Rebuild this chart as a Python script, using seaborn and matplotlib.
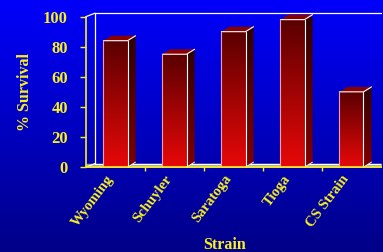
import numpy as np
import pandas as pd
import seaborn as sns
import matplotlib.pyplot as plt
from matplotlib.patches import Polygon
from matplotlib.colors import LinearSegmentedColormap
from matplotlib.transforms import ScaledTranslation

strains = ["Wyoming", "Schuyler", "Saratoga", "Tioga", "CS Strain"]
survival = [84, 75, 90, 98, 50]

yellow = "#f8f020"
serif = ["Liberation Serif", "DejaVu Serif"]

sns.set_theme(style="white")
plt.rcParams["font.family"] = serif
plt.rcParams["font.weight"] = "bold"

df = pd.DataFrame({"strain": strains, "survival": survival})

fig = plt.figure(figsize=(3.83, 2.52), dpi=100)

# blue gradient background
bg = fig.add_axes([0, 0, 1, 1], zorder=-10)
bg_cmap = LinearSegmentedColormap.from_list("bg", ["#0000fb", "#000088"])
bg.imshow(np.linspace(0, 1, 256).reshape(-1, 1), aspect="auto", cmap=bg_cmap,
          extent=[0, 1, 0, 1])
bg.set_axis_off()

ax = fig.add_axes([0.2245, 0.337, 0.77, 0.597])
ax.patch.set_alpha(0)
sns.barplot(data=df, x="strain", y="survival", width=0.41, ax=ax,
            color="#c00000", edgecolor="none", zorder=3)

# depth in data units (~8px right, ~5px up)
ddx, ddy = 0.136, 3.3
wdx, wdy = 0.153, 2.3

front_cmap = LinearSegmentedColormap.from_list("front", ["#e80808", "#5a0000"])
side_cmap = LinearSegmentedColormap.from_list("side", ["#800000", "#300000"])
grad = np.linspace(0, 1, 256).reshape(-1, 1)

for p in ax.patches:
    x0 = p.get_x()
    w = p.get_width()
    h = p.get_height()
    x1 = x0 + w
    p.set_facecolor("none")
    im = ax.imshow(grad, extent=[x0, x1, 0, h], aspect="auto", cmap=front_cmap,
                   origin="lower", zorder=3)
    im.set_clip_path(p)
    side = Polygon([(x1, 0), (x1 + ddx, ddy), (x1 + ddx, h + ddy), (x1, h)],
                   closed=True, facecolor="none", edgecolor="none", zorder=3,
                   clip_on=False)
    ax.add_patch(side)
    im2 = ax.imshow(grad, extent=[x1, x1 + ddx, 0, h + ddy], aspect="auto",
                    cmap=side_cmap, origin="lower", zorder=3)
    im2.set_clip_path(side)
    top = Polygon([(x0, h), (x1, h), (x1 + ddx, h + ddy), (x0 + ddx, h + ddy)],
                  closed=True, facecolor="#8a0000", edgecolor="none", zorder=4,
                  clip_on=False)
    ax.add_patch(top)
    ax.plot([x0, x1, x1 + ddx], [h, h, h + ddy], color="white", lw=0.8,
            zorder=5, clip_on=False)
    ax.plot([x1, x1], [0, h], color="white", lw=0.8, zorder=5, clip_on=False)
    ax.plot([x1, x1 + ddx], [0, ddy], color="white", lw=0.6, zorder=5)
    ax.plot([x0, x0], [0, h], color="#f0a0a0", lw=0.8, zorder=5, clip_on=False)

xmin, xmax = -0.5, 4.5
# back wall and floor
ax.fill_between([xmin, xmax], 0, wdy, color="#a4a4a4", zorder=1)
ax.plot([xmin + wdx, xmax], [wdy, wdy], color="white", lw=0.9, zorder=2)
ax.plot([xmin + wdx, xmin + wdx, xmax], [wdy, 100 + wdy, 100 + wdy],
        color="white", lw=0.9, zorder=2, clip_on=False)
ax.plot([xmin, xmin + wdx], [100, 100 + wdy], color="white", lw=0.9,
        zorder=2, clip_on=False)
ax.plot([xmin, xmin + wdx], [0, wdy], color="white", lw=0.9, zorder=2)

ax.set_xlim(xmin, xmax)
ax.set_ylim(0, 100)
ax.set_yticks([0, 20, 40, 60, 80, 100])

for s in ["top", "right"]:
    ax.spines[s].set_visible(False)
for s in ["left", "bottom"]:
    ax.spines[s].set_color(yellow)
    ax.spines[s].set_linewidth(1.2)
    ax.spines[s].set_zorder(6)

ax.tick_params(axis="y", colors=yellow, length=4, width=1, direction="out",
               left=True, labelsize=12, pad=9)
ax.tick_params(axis="x", which="major", length=0, labelsize=10.5, pad=4,
               colors=yellow)
ax.set_xticks([0.5, 1.5, 2.5, 3.5], minor=True)
ax.tick_params(axis="x", which="minor", bottom=True, length=3, width=1,
               color=yellow, direction="out")
shift = ScaledTranslation(-0.1, 0, fig.dpi_scale_trans)
for lbl in ax.get_xticklabels():
    lbl.set_rotation(53)
    lbl.set_ha("right")
    lbl.set_va("top")
    lbl.set_rotation_mode("anchor")
    lbl.set_fontweight("bold")
    lbl.set_transform(lbl.get_transform() + shift)
for lbl in ax.get_yticklabels():
    lbl.set_fontweight("bold")

ax.set_ylabel("% Survival", color=yellow, fontsize=11.5, fontweight="bold")
ax.set_xlabel("Strain", color=yellow, fontsize=11.5, fontweight="bold")
ax.xaxis.set_label_coords(0.47, -0.462)
ax.yaxis.set_label_coords(-0.178, 0.5)

fig.savefig("out.png", dpi=100)
